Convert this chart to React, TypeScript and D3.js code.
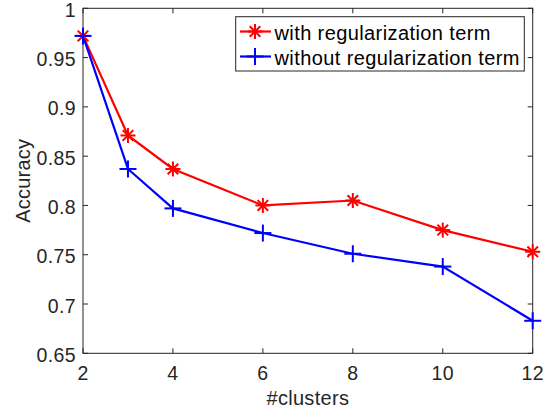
import React from "react";
import * as d3 from "d3";

const clusters = [2, 3, 4, 6, 8, 10, 12];
const withReg = [0.972, 0.871, 0.837, 0.8, 0.805, 0.775, 0.753];
const withoutReg = [0.972, 0.837, 0.797, 0.772, 0.751, 0.738, 0.683];
const xTicks = [2, 4, 6, 8, 10, 12];
const yTicks = [0.65, 0.7, 0.75, 0.8, 0.85, 0.9, 0.95, 1];
const seriesNames = ["with regularization term", "without regularization term"];

const W = 554, H = 416;
const L = 83, R = 532.7, T = 8.3, B = 353.3;
const font = "'Liberation Sans', Arial, Helvetica, sans-serif";
const axisColor = "#262626";

function Star({ x, y, s, color }: { x: number; y: number; s: number; color: string }) {
  const d = s / 2;
  const k = d * 0.707;
  return (
    <g stroke={color} strokeWidth={2} fill="none">
      <line x1={x - d} y1={y} x2={x + d} y2={y} />
      <line x1={x} y1={y - d} x2={x} y2={y + d} />
      <line x1={x - k} y1={y - k} x2={x + k} y2={y + k} />
      <line x1={x - k} y1={y + k} x2={x + k} y2={y - k} />
    </g>
  );
}

function Plus({ x, y, s, color }: { x: number; y: number; s: number; color: string }) {
  const d = s / 2;
  return (
    <g stroke={color} strokeWidth={2} fill="none">
      <line x1={x - d} y1={y} x2={x + d} y2={y} />
      <line x1={x} y1={y - d} x2={x} y2={y + d} />
    </g>
  );
}

export default function App() {
  const x = d3.scaleLinear().domain([2, 12]).range([L, R]);
  const y = d3.scaleLinear().domain([0.65, 1]).range([B, T]);
  const line = d3
    .line<number>()
    .x((_, i) => x(clusters[i]))
    .y((v) => y(v));
  const tl = 5;
  return (
    <svg width={W} height={H} style={{ position: "absolute", left: 0, top: 0 }} fontFamily={font}>
      <rect x={0} y={0} width={W} height={H} fill="#fff" />
      {/* ticks */}
      <g stroke={axisColor} strokeWidth={1}>
        {xTicks.map((t) => (
          <g key={"x" + t}>
            <line x1={x(t)} x2={x(t)} y1={B} y2={B - tl} />
            <line x1={x(t)} x2={x(t)} y1={T} y2={T + tl} />
          </g>
        ))}
        {yTicks.map((t) => (
          <g key={"y" + t}>
            <line x1={L} x2={L + tl} y1={y(t)} y2={y(t)} />
            <line x1={R} x2={R - tl} y1={y(t)} y2={y(t)} />
          </g>
        ))}
      </g>
      <rect x={L} y={T} width={R - L} height={B - T} fill="none" stroke={axisColor} strokeWidth={1} />
      {/* tick labels */}
      <g fill={axisColor} fontSize={19.5} letterSpacing={0.4}>
        {xTicks.map((t) => (
          <text key={"xl" + t} x={x(t)} y={B + 27} textAnchor="middle">
            {t}
          </text>
        ))}
        {yTicks.map((t) => (
          <text key={"yl" + t} x={L - 7} y={y(t) + 8.5} textAnchor="end">
            {t}
          </text>
        ))}
      </g>
      <text x={(L + R) / 2} y={405} textAnchor="middle" fontSize={20} letterSpacing={0.3} fill={axisColor}>
        #clusters
      </text>
      <text
        transform={`translate(30,${(T + B) / 2}) rotate(-90)`}
        textAnchor="middle"
        fontSize={20}
        letterSpacing={0.2}
        fill={axisColor}
      >
        Accuracy
      </text>
      {/* lines */}
      <path d={line(withReg) || ""} fill="none" stroke="#ff0000" strokeWidth={2.2} />
      <path d={line(withoutReg) || ""} fill="none" stroke="#0000ff" strokeWidth={2.2} />
      {withReg.map((v, i) => (
        <Star key={"s" + i} x={x(clusters[i])} y={y(v)} s={15} color="#ff0000" />
      ))}
      {withoutReg.map((v, i) => (
        <Plus key={"p" + i} x={x(clusters[i])} y={y(v)} s={17} color="#0000ff" />
      ))}
      {/* legend */}
      <rect x={235.7} y={16.7} width={288.6} height={54.3} fill="#fff" stroke={axisColor} strokeWidth={1} />
      <line x1={240} x2={271} y1={31.5} y2={31.5} stroke="#ff0000" strokeWidth={2.2} />
      <Star x={255} y={31.5} s={15} color="#ff0000" />
      <text x={274.5} y={39.5} fontSize={20} letterSpacing={0.4} fill="#000">
        {seriesNames[0]}
      </text>
      <line x1={240} x2={271} y1={56.5} y2={56.5} stroke="#0000ff" strokeWidth={2.2} />
      <Plus x={255} y={56.5} s={17} color="#0000ff" />
      <text x={274.5} y={64.5} fontSize={20} letterSpacing={0.4} fill="#000">
        {seriesNames[1]}
      </text>
    </svg>
  );
}
